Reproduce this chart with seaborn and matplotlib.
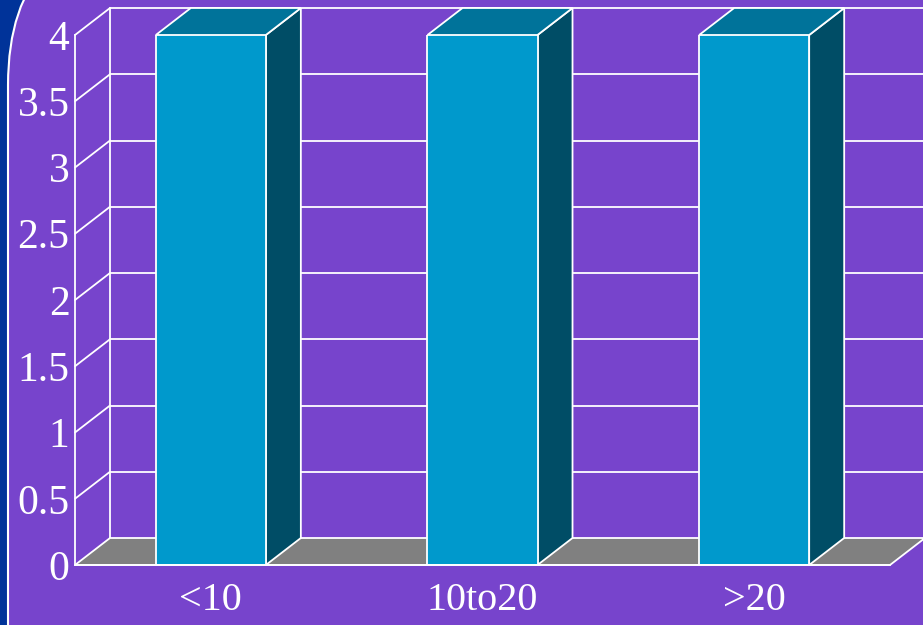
import matplotlib
matplotlib.use("Agg")
import matplotlib.pyplot as plt
import matplotlib.transforms as mtransforms
from matplotlib.patches import Polygon, FancyBboxPatch
import seaborn as sns
import numpy as np

# data
categories = ["<10", "10to20", ">20"]
values = [4, 4, 4]
yticks = [0, 0.5, 1, 1.5, 2, 2.5, 3, 3.5, 4]
ytick_labels = ["0", "0.5", "1", "1.5", "2", "2.5", "3", "3.5", "4"]

# colours
bg_dark = "#003399"
bg_purple = "#7744CC"
bar_front = "#0099CC"
bar_side = "#004D66"
bar_top = "#00739A"
floor_col = "#808080"

sns.set_style("white")
plt.rcParams["font.family"] = ["Liberation Serif", "DejaVu Serif"]

fig = plt.figure(figsize=(9.23, 6.25), dpi=100, facecolor=bg_dark)

# purple slide panel with rounded top-left corner
panel = FancyBboxPatch((8, -400), 1100, 625 + 77 + 400,
                       boxstyle="round,pad=0,rounding_size=162",
                       facecolor=bg_purple, edgecolor="white", linewidth=1.5,
                       transform=mtransforms.IdentityTransform(), zorder=-5)
fig.add_artist(panel)

ax = fig.add_axes([75 / 923, 60 / 625, 815 / 923, 530 / 625])
ax.patch.set_alpha(0)

sns.barplot(x=categories, y=values, color=bar_front, width=0.405,
            edgecolor="white", linewidth=1.3, saturation=1, ax=ax, zorder=5)

ax.set_xlim(-0.5, 2.5)
ax.set_ylim(0, 4)

# depth of the 3d effect in pixels -> data units
depth_px = (35, 27)
p0 = ax.transData.transform((0, 0))
p1 = ax.transData.inverted().transform((p0[0] + depth_px[0], p0[1] + depth_px[1]))
dx, dy = p1[0], p1[1]
x0, x1 = ax.get_xlim()

lw = 1.3
# back wall grid
for y in yticks[1:]:
    ax.plot([x0 + dx, x1 + dx], [y + dy, y + dy], color="white", lw=lw,
            clip_on=False, zorder=1)
    ax.plot([x0, x0 + dx], [y, y + dy], color="white", lw=lw,
            clip_on=False, zorder=1)
ax.plot([x0 + dx, x0 + dx], [dy, 4 + dy], color="white", lw=lw,
        clip_on=False, zorder=1)

# floor
floor = Polygon([(x0, 0), (x1, 0), (x1 + dx, dy), (x0 + dx, dy)],
                closed=True, facecolor=floor_col, edgecolor="white",
                linewidth=lw, clip_on=False, zorder=2)
ax.add_patch(floor)

# side and top faces of the bars
for bar in list(ax.patches):
    if bar is floor:
        continue
    bx = bar.get_x()
    bw = bar.get_width()
    bh = bar.get_height()
    side = Polygon([(bx + bw, 0), (bx + bw + dx, dy), (bx + bw + dx, bh + dy),
                    (bx + bw, bh)], closed=True, facecolor=bar_side,
                   edgecolor="white", linewidth=lw, clip_on=False, zorder=4)
    top = Polygon([(bx, bh), (bx + bw, bh), (bx + bw + dx, bh + dy),
                   (bx + dx, bh + dy)], closed=True, facecolor=bar_top,
                  edgecolor="white", linewidth=lw, clip_on=False, zorder=4)
    ax.add_patch(side)
    ax.add_patch(top)

# axes styling
for s in ["top", "right"]:
    ax.spines[s].set_visible(False)
for s in ["left", "bottom"]:
    ax.spines[s].set_color("white")
    ax.spines[s].set_linewidth(lw)
    ax.spines[s].set_zorder(6)

ax.set_yticks(yticks)
ax.set_yticklabels(ytick_labels)
ax.set_xticks(range(len(categories)))
ax.set_xticklabels(categories)
ax.set_xticks([0.5, 1.5, 2.5], minor=True)
ax.tick_params(axis="y", direction="in", length=7, width=lw, color="white",
               labelcolor="white", labelsize=30, pad=4)
ax.tick_params(axis="x", which="major", length=0, labelcolor="white",
               labelsize=29, pad=12)
ax.tick_params(axis="x", which="minor", direction="in", length=7, width=lw,
               color="white")
ax.set_xlabel("")
ax.set_ylabel("")

fig.savefig("out.png", dpi=100, facecolor=bg_dark)
